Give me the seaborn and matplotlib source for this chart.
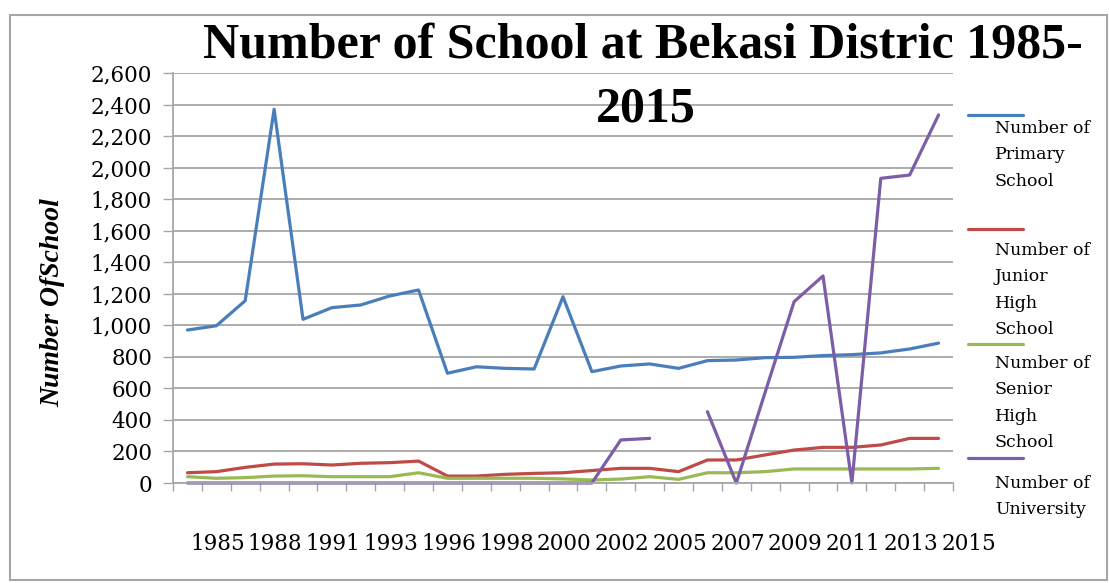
import numpy as np
import pandas as pd
import matplotlib
matplotlib.use("Agg")
import matplotlib.pyplot as plt
import seaborn as sns
from matplotlib.transforms import ScaledTranslation
from matplotlib.patches import Rectangle
from matplotlib.lines import Line2D

# ---------------- data ----------------
years = ["1985", "1986", "1988", "1989", "1991", "1992", "1993", "1994", "1996",
         "1997", "1998", "1999", "2000", "2001", "2002", "2003", "2005", "2006",
         "2007", "2008", "2009", "2010", "2011", "2012", "2013", "2014", "2015"]

primary = [970, 997, 1156, 2370, 1038, 1112, 1129, 1186, 1224, 696, 737, 727, 723,
           1181, 706, 742, 755, 727, 776, 780, 795, 797, 808, 814, 825, 850, 887]
junior = [65, 72, 99, 120, 122, 114, 125, 129, 139, 44, 44, 55, 61, 65, 79, 93, 93,
          72, 146, 146, 178, 209, 226, 226, 241, 283, 283]
senior = [40, 30, 34, 44, 46, 40, 40, 40, 65, 30, 30, 30, 30, 26, 19, 25, 40, 23,
          65, 65, 72, 89, 89, 89, 89, 89, 93]
university = [0, 0, 0, 0, 0, 0, 0, 0, 0, 0, 0, 0, 0, 0, 0, 273, 283, np.nan,
              452, 0, 577, 1150, 1313, 0, 1932, 1953, 2334]

series_names = ["Number of Primary School", "Number of Junior High School",
                "Number of Senior High School", "Number of University"]
legend_labels = ["Number of\nPrimary\nSchool", "Number of\nJunior\nHigh\nSchool",
                 "Number of\nSenior\nHigh\nSchool", "Number of\nUniversity"]
y_ticks = list(range(0, 2601, 200))
title_lines = ["Number of School at Bekasi Distric 1985-", "2015"]
y_label = "Number OfSchool"

# ---------------- style ----------------
colors = ["#4a7ebb", "#be4b48", "#98b954", "#7b5ea7"]
grey = "#a6a6a6"
W, H = 1109, 583

# long-form table; a new segment starts after every missing value
rows = []
for name, vals in zip(series_names, [primary, junior, senior, university]):
    seg = 0
    for i, v in enumerate(vals):
        if v is None or np.isnan(v):
            seg += 1
            continue
        rows.append(dict(idx=i, value=v, series=name, seg=f"{name}-{seg}"))
df = pd.DataFrame(rows)

sns.set_style("white")
plt.rcParams["font.family"] = ["DejaVu Serif"]
plt.rcParams["text.color"] = "black"
plt.rcParams["axes.labelcolor"] = "black"

fig = plt.figure(figsize=(W / 100, H / 100), dpi=100)
ax = fig.add_axes([173 / W, 1 - 483 / H, 780 / W, 410 / H])

sns.lineplot(data=df, x="idx", y="value", hue="series", units="seg",
             estimator=None, hue_order=series_names,
             palette=dict(zip(series_names, colors)), legend=False,
             linewidth=2.3, ax=ax)
for ln in ax.lines:
    ln.set_clip_on(False)
    ln.set_solid_joinstyle("round")

ax.set_xlim(-0.5, len(years) - 0.5)
ax.set_ylim(0, 2600)
ax.set_xlabel("")

ax.set_yticks(y_ticks)
ax.set_yticklabels([f"{v:,}" for v in y_ticks])
ax.set_xticks(range(0, len(years), 2))
ax.set_xticklabels(years[::2])
ax.set_xticks(np.arange(-0.5, len(years), 1), minor=True)

ax.yaxis.grid(True, color=grey, lw=1.3)
ax.xaxis.grid(False)
ax.set_axisbelow(True)
for s in ["top", "right"]:
    ax.spines[s].set_visible(False)
for s in ["left", "bottom"]:
    ax.spines[s].set_color(grey)
    ax.spines[s].set_linewidth(1.3)

ax.tick_params(axis="y", which="major", left=True, length=7, width=1, color=grey,
               labelcolor="black", pad=8, labelsize=15.5)
ax.tick_params(axis="x", which="major", bottom=True, length=0, pad=36,
               labelcolor="black", labelsize=15.5)
ax.tick_params(axis="x", which="minor", bottom=True, length=6, width=1, color=grey)

for lbl in ax.get_xticklabels():
    lbl.set_transform(lbl.get_transform() + ScaledTranslation(0.3, 0, fig.dpi_scale_trans))

ax.set_ylabel(y_label, fontfamily="Liberation Serif", fontweight="bold",
              fontstyle="italic", fontsize=20, color="black")
ax.yaxis.set_label_coords(-0.1385, 0.44)

fig.text(643 / W, 1 - 45 / H, title_lines[0], ha="center", va="center",
         fontfamily="Liberation Serif", fontweight="bold", fontsize=36, color="black")
fig.text(646 / W, 1 - 109 / H, title_lines[1], ha="center", va="center",
         fontfamily="Liberation Serif", fontweight="bold", fontsize=36, color="black")

# legend (drawn by hand to keep the stacked look)
marker_y = [115, 229, 344, 458]
text_top = [120, 242, 355, 475]
for c, lab, my, ty in zip(colors, legend_labels, marker_y, text_top):
    fig.add_artist(Line2D([968 / W, 1023 / W], [1 - my / H, 1 - my / H],
                          transform=fig.transFigure, color=c, lw=2.3))
    fig.text(995 / W, 1 - ty / H, lab, ha="left", va="top", fontsize=12.5,
             linespacing=1.72, color="black")

fig.add_artist(Rectangle((10 / W, 3 / H), 1097 / W, 565 / H,
                         transform=fig.transFigure, fill=False,
                         edgecolor=grey, lw=1.5))

fig.savefig("out.png", dpi=100)
